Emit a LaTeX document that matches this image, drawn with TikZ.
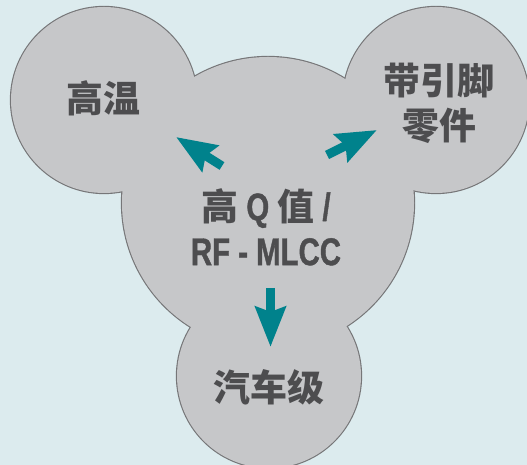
\documentclass[tikz,border=0pt]{standalone}
\usepackage{fontspec}
\setmainfont{Liberation Sans}[FakeStretch=0.76, FakeBold=1]
\newfontfamily\cjk{Noto Sans CJK SC}
\usetikzlibrary{arrows.meta}
\definecolor{bgblue}{RGB}{220,235,238}
\definecolor{blobgray}{RGB}{198,199,201}
\definecolor{rimgray}{RGB}{118,118,120}
\definecolor{arrowteal}{RGB}{0,130,140}
\definecolor{textgray}{RGB}{77,77,79}
\newcommand\lat[1]{{\fontsize{22pt}{25.5pt}\selectfont #1}}
\tikzset{
  lbl/.style={text=textgray, align=center, inner sep=0pt,
    font=\bfseries\fontsize{21pt}{25.5pt}\selectfont},
  flow/.style={->, arrowteal, line width=0.18cm}
}

\begin{document}
\begin{tikzpicture}[x=0.02cm, y=0.02cm, >={Stealth[length=0.8cm,width=0.6cm,inset=0.1cm]}]
\useasboundingbox (0,0) rectangle (527,465);
\clip (0,0) rectangle (527,465);
\fill [bgblue] (0,0) rectangle (527,465);
\begin{scope}
  \coordinate (hot) at (104,365);
  \coordinate (leaded) at (436,365);
  \coordinate (core) at (268,262);
  \coordinate (auto) at (269,89);
  % rim first, the fill hides the inner half
  \draw [rimgray, line width=1.3pt] (hot) circle (93);
  \draw [rimgray, line width=1.3pt] (leaded) circle (93);
  \draw [rimgray, line width=1.3pt] (core) circle (146);
  \draw [rimgray, line width=1.3pt] (auto) circle (92);
  \fill [blobgray] (hot) circle (93);
  \fill [blobgray] (leaded) circle (93);
  \fill [blobgray] (core) circle (146);
  \fill [blobgray] (auto) circle (92);
\end{scope}

\node [lbl, name=hotlbl] at (103.5,367) {{\cjk 高温}};
\node [lbl, name=leadedlbl] at (439,361.5) {{\cjk 带引脚}\\{\cjk 零件}};
\node [lbl, name=corelbl] at (266,238) {{\cjk 高}\lat{ Q }{\cjk 值}\lat{ /}\\\lat{RF - MLCC}};
\node [lbl, name=autolbl] at (269,78) {{\cjk 汽车级}};

\coordinate (a1s) at (222,299);
\coordinate (a1e) at (176,328);
\coordinate (a2s) at (327,310);
\coordinate (a2e) at (377,335);
\coordinate (a3s) at (270.5,177);
\coordinate (a3e) at (270.5,118);
\draw [flow] (a1s) -- (a1e);
\draw [flow] (a2s) -- (a2e);
\draw [flow] (a3s) -- (a3e);
\end{tikzpicture}
\end{document}
